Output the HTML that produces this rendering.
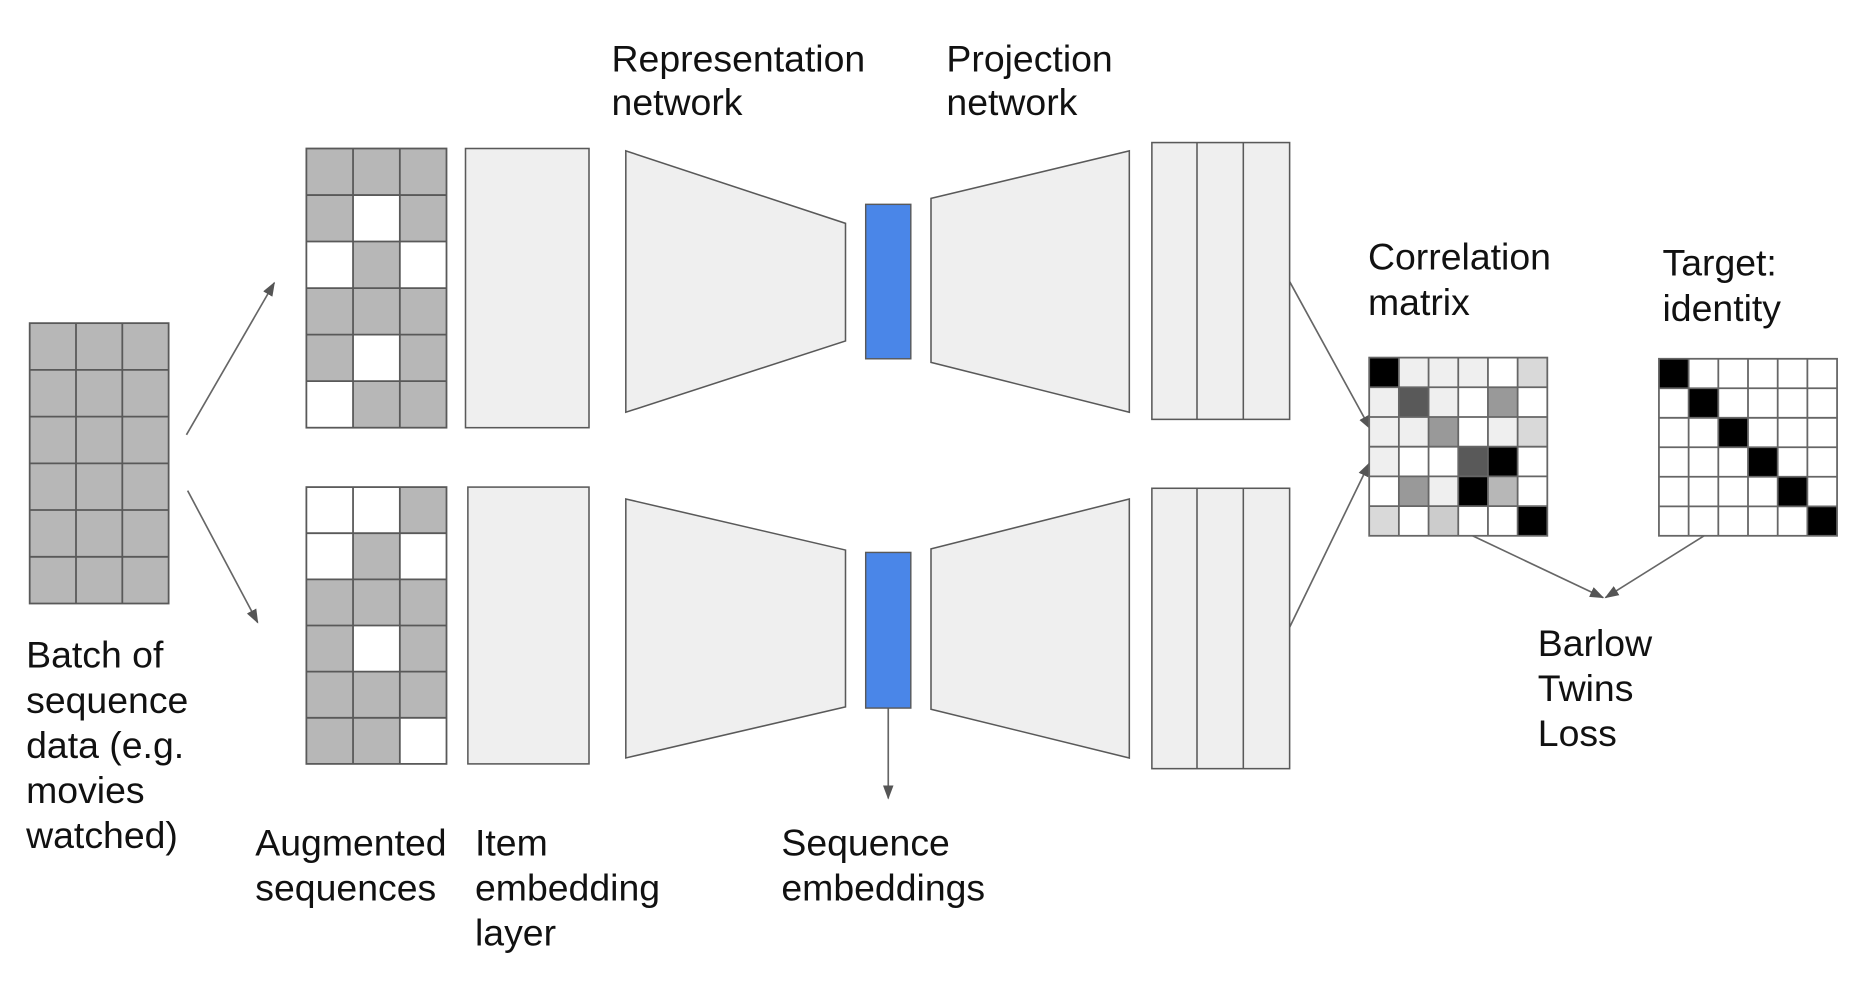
<!DOCTYPE html>
<html><head><meta charset="utf-8"><style>
html,body{margin:0;padding:0;background:#fff;}
svg{display:block;}
text{font-family:"Liberation Sans",Arial,sans-serif;font-size:31.5px;fill:#111;}
</style></head><body>
<svg width="1862" height="992" viewBox="0 0 1568 835" preserveAspectRatio="none" xmlns="http://www.w3.org/2000/svg">
<defs>
<marker id="ah" markerWidth="12" markerHeight="10" refX="11" refY="5" orient="auto" markerUnits="userSpaceOnUse">
<path d="M0,0.5 L12,5 L0,9.5 z" fill="#555"/></marker>
</defs>
<g stroke="#595959" stroke-width="1.5">
<rect x="25" y="272" width="117" height="236" fill="#b7b7b7"/>
<path d="M64,272V508M103,272V508M25,311.3H142M25,350.7H142M25,390H142M25,429.3H142M25,468.7H142" fill="none"/>
</g>
<g stroke="#666" stroke-width="1.4" fill="none">
<line x1="157" y1="366" x2="231" y2="238" marker-end="url(#ah)"/>
<line x1="158" y1="413" x2="217" y2="524" marker-end="url(#ah)"/>
<line x1="748" y1="596" x2="748" y2="672" marker-end="url(#ah)"/>
<line x1="1086" y1="237" x2="1154" y2="361" marker-end="url(#ah)"/>
<line x1="1086" y1="528" x2="1153" y2="390" marker-end="url(#ah)"/>
<line x1="1240" y1="451" x2="1350" y2="503" marker-end="url(#ah)"/>
<line x1="1435" y1="451" x2="1352" y2="503" marker-end="url(#ah)"/>
</g>
<!-- augmented grids -->
<g stroke="none" fill="#fff">
<rect x="258" y="125" width="118" height="235" fill="#b7b7b7"/>
<rect x="297.3" y="164.2" width="39.4" height="39.1"/>
<rect x="258" y="203.3" width="39.3" height="39.2"/>
<rect x="336.7" y="203.3" width="39.3" height="39.2"/>
<rect x="297.3" y="281.7" width="39.4" height="39.1"/>
<rect x="258" y="320.8" width="39.3" height="39.2"/>
<rect x="258" y="410" width="118" height="233" fill="#b7b7b7"/>
<rect x="258" y="410" width="78.7" height="38.8"/>
<rect x="258" y="448.8" width="39.3" height="38.9"/>
<rect x="336.7" y="448.8" width="39.3" height="38.9"/>
<rect x="297.3" y="526.5" width="39.4" height="38.8"/>
<rect x="336.7" y="604.2" width="39.3" height="38.8"/>
</g>
<g stroke="#595959" stroke-width="1.5" fill="none">
<rect x="258" y="125" width="118" height="235"/>
<path d="M297.3,125V360M336.7,125V360M258,164.2H376M258,203.3H376M258,242.5H376M258,281.7H376M258,320.8H376"/>
<rect x="258" y="410" width="118" height="233"/>
<path d="M297.3,410V643M336.7,410V643M258,448.8H376M258,487.7H376M258,526.5H376M258,565.3H376M258,604.2H376"/>
</g>
<g stroke="#595959" stroke-width="1.3" fill="#efefef">
<rect x="392" y="125" width="104" height="235"/>
<rect x="394" y="410" width="102" height="233"/>
<polygon points="527,127 712,188 712,287 527,347"/>
<polygon points="527,420 712,463 712,595 527,638"/>
<polygon points="784,167 951,127 951,347 784,305"/>
<polygon points="784,462 951,420 951,638 784,597"/>
<rect x="970" y="120" width="116" height="233"/>
<rect x="970" y="411" width="116" height="236"/>
<path d="M1008,120V353M1047,120V353M1008,411V647M1047,411V647" fill="none"/>
</g>
<g stroke="#595959" stroke-width="1.2" fill="#4a86e8">
<rect x="729" y="172" width="38" height="130"/>
<rect x="729" y="465" width="38" height="131"/>
</g>
<!-- correlation matrix -->
<g stroke="none">
<rect x="1153" y="301" width="150" height="150" fill="#fff"/>
<rect x="1153" y="301" width="25" height="25" fill="#000"/>
<rect x="1178" y="301" width="75" height="25" fill="#efefef"/>
<rect x="1278" y="301" width="25" height="25" fill="#d9d9d9"/>
<rect x="1153" y="326" width="25" height="25" fill="#efefef"/>
<rect x="1178" y="326" width="25" height="25" fill="#595959"/>
<rect x="1203" y="326" width="25" height="25" fill="#efefef"/>
<rect x="1253" y="326" width="25" height="25" fill="#999"/>
<rect x="1153" y="351" width="50" height="25" fill="#efefef"/>
<rect x="1203" y="351" width="25" height="25" fill="#999"/>
<rect x="1253" y="351" width="25" height="25" fill="#efefef"/>
<rect x="1278" y="351" width="25" height="25" fill="#d9d9d9"/>
<rect x="1153" y="376" width="25" height="25" fill="#efefef"/>
<rect x="1228" y="376" width="25" height="25" fill="#595959"/>
<rect x="1253" y="376" width="25" height="25" fill="#000"/>
<rect x="1178" y="401" width="25" height="25" fill="#999"/>
<rect x="1203" y="401" width="25" height="25" fill="#efefef"/>
<rect x="1228" y="401" width="25" height="25" fill="#000"/>
<rect x="1253" y="401" width="25" height="25" fill="#b7b7b7"/>
<rect x="1153" y="426" width="25" height="25" fill="#d9d9d9"/>
<rect x="1203" y="426" width="25" height="25" fill="#ccc"/>
<rect x="1278" y="426" width="25" height="25" fill="#000"/>
<rect x="1397" y="302" width="150" height="149" fill="#fff"/>
<g fill="#000">
<rect x="1397" y="302" width="25" height="24.8"/>
<rect x="1422" y="326.8" width="25" height="24.8"/>
<rect x="1447" y="351.7" width="25" height="24.8"/>
<rect x="1472" y="376.5" width="25" height="24.8"/>
<rect x="1497" y="401.3" width="25" height="24.8"/>
<rect x="1522" y="426.2" width="25" height="24.8"/>
</g>
</g>
<g stroke="#666" stroke-width="1.5" fill="none">
<rect x="1153" y="301" width="150" height="150"/>
<path d="M1178,301V451M1203,301V451M1228,301V451M1253,301V451M1278,301V451M1153,326H1303M1153,351H1303M1153,376H1303M1153,401H1303M1153,426H1303"/>
<rect x="1397" y="302" width="150" height="149"/>
<path d="M1422,302V451M1447,302V451M1472,302V451M1497,302V451M1522,302V451M1397,326.8H1547M1397,351.7H1547M1397,376.5H1547M1397,401.3H1547M1397,426.2H1547"/>
</g>
<text x="515" y="60">Representation</text><text x="515" y="97">network</text>
<text x="797" y="60">Projection</text><text x="797" y="97">network</text>
<text x="1152" y="227">Correlation</text><text x="1152" y="265">matrix</text>
<text x="1400" y="232">Target:</text><text x="1400" y="270">identity</text>
<text x="1295" y="552">Barlow</text><text x="1295" y="590">Twins</text><text x="1295" y="628">Loss</text>
<text x="22" y="562">Batch of</text><text x="22" y="600">sequence</text><text x="22" y="638">data (e.g.</text><text x="22" y="676">movies</text><text x="22" y="714">watched)</text>
<text x="215" y="720">Augmented</text><text x="215" y="758">sequences</text>
<text x="400" y="720">Item</text><text x="400" y="758">embedding</text><text x="400" y="796">layer</text>
<text x="658" y="720">Sequence</text><text x="658" y="758">embeddings</text>
</svg>
</body></html>
